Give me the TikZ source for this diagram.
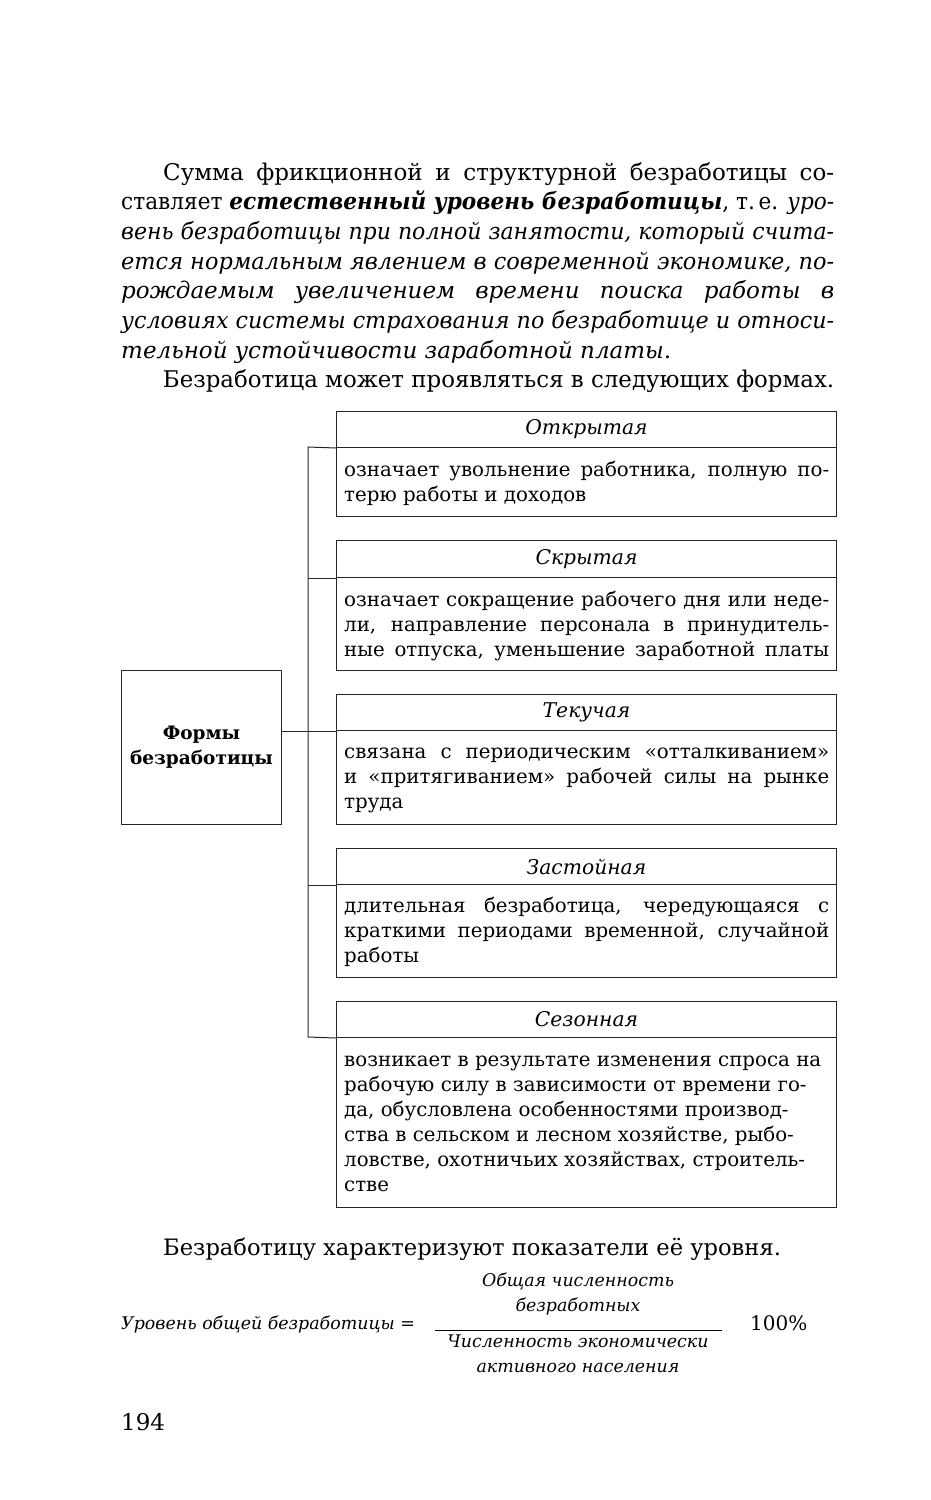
\documentclass[tikz,border=0pt]{standalone}
\usepackage{graphicx}
\usepackage{fontspec}
\setmainfont{DejaVu Serif}
\newcommand{\fsz}[2]{\fontsize{#1pt}{#2pt}\selectfont}
\newsavebox\lnbox
\newcommand{\jl}[1]{\sbox\lnbox{#1}\ifdim\wd\lnbox>\linewidth\resizebox{\linewidth}{\height}{\usebox\lnbox}\else\hbox to\linewidth{#1}\fi}
\newcommand{\lftl}[1]{\sbox\lnbox{#1}\ifdim\wd\lnbox>\linewidth\resizebox{\linewidth}{\height}{\usebox\lnbox}\else\hbox to\linewidth{#1\hfil}\fi}
\tikzset{
  boxline/.style={draw=black!85, line width=1pt},
  hdrbox/.style={boxline, rectangle, minimum width=500pt, inner sep=0pt, anchor=north west, font=\fsz{20.3}{22}\itshape},
  bodybox/.style={boxline, rectangle, minimum width=500pt, inner sep=0pt, anchor=north west},
  bodytxt/.style={anchor=base west, inner sep=0pt, font=\fsz{19.8}{25}},
  maintxt/.style={anchor=base west, inner sep=0pt, font=\fsz{23}{29.7}},
  conn/.style={draw=black!85, line width=1pt},
  frm/.style={inner sep=0pt, font=\fsz{17.4}{25}\itshape}
}
\begin{document}
\begin{tikzpicture}[x=1pt,y=-1pt]
\useasboundingbox (0,0) rectangle (930,1500);

% main paragraph
\node[maintxt] (p1) at (121,180) {\parbox[t]{713pt}{%
\jl{\hspace*{42pt}Сумма фрикционной и структурной безработицы со-}\par
\jl{ставляет \textbf{\textit{естественный уровень безработицы}}, т.\,е. \textit{уро-}}\par
\jl{\textit{вень безработицы при полной занятости, который счита-}}\par
\jl{\textit{ется нормальным явлением в современной экономике, по-}}\par
\jl{\textit{рождаемым увеличением времени поиска работы в}}\par
\jl{\textit{условиях системы страхования по безработице и относи-}}\par
\lftl{\textit{тельной устойчивости заработной платы}.}\par
\lftl{\hspace*{42pt}Безработица может проявляться в следующих формах.}}};

% boxes
\node[hdrbox, minimum height=36pt] (h1) at (336,411) {Открытая};
\node[bodybox, minimum height=69pt] (b1) at (336,447) {};
\node[bodytxt] (t1) at (344,476) {\parbox[t]{485pt}{%
\jl{означает увольнение работника, полную по-}\par
\lftl{терю работы и доходов}}};

\node[hdrbox, minimum height=37pt] (h2) at (336,540) {Скрытая};
\node[bodybox, minimum height=93pt] (b2) at (336,577) {};
\node[bodytxt] (t2) at (344,606) {\parbox[t]{485pt}{%
\jl{означает сокращение рабочего дня или неде-}\par
\jl{ли, направление персонала в принудитель-}\par
\jl{ные отпуска, уменьшение заработной платы}}};

\node[hdrbox, minimum height=36pt] (h3) at (336,694) {Текучая};
\node[bodybox, minimum height=94pt] (b3) at (336,730) {};
\node[bodytxt] (t3) at (344,758) {\parbox[t]{485pt}{%
\jl{связана с периодическим «отталкиванием»}\par
\jl{и «притягиванием» рабочей силы на рынке}\par
\lftl{труда}}};

\node[hdrbox, minimum height=36pt] (h4) at (336,848) {Застойная};
\node[bodybox, minimum height=93pt] (b4) at (336,884) {};
\node[bodytxt] (t4) at (344,912) {\parbox[t]{485pt}{%
\jl{длительная безработица, чередующаяся с}\par
\jl{краткими периодами временной, случайной}\par
\lftl{работы}}};

\node[hdrbox, minimum height=36pt] (h5) at (336,1001) {Сезонная};
\node[bodybox, minimum height=170pt] (b5) at (336,1037) {};
\node[bodytxt] (t5) at (344,1066) {\parbox[t]{485pt}{%
\lftl{возникает в результате изменения спроса на}\par
\lftl{рабочую силу в зависимости от времени го-}\par
\lftl{да, обусловлена особенностями производ-}\par
\lftl{ства в сельском и лесном хозяйстве, рыбо-}\par
\lftl{ловстве, охотничьих хозяйствах, строитель-}\par
\lftl{стве}}};

% left box
\node[boxline, rectangle, minimum width=160pt, minimum height=154pt, inner sep=0pt, anchor=north west, align=center, font=\fsz{18.5}{25}\bfseries] (form) at (121,670) {Формы\\безработицы};

% connectors
\coordinate (vt) at (308,447);
\coordinate (vb) at (308,1037);
\draw[conn] (h1.south west) -- (vt) -- (vb) -- (h5.south west);
\draw[conn] (h2.south west) -- (h2.south west -| vt);
\draw[conn] (h4.south west) -- (h4.south west -| vt);
\draw[conn] (form.east |- h3.south west) -- (h3.south west);

% text after diagram
\node[maintxt, font=\fsz{22.6}{29.7}] (p2) at (163,1255) {Безработицу характеризуют показатели её уровня.};

\node[frm, anchor=base west] (lhs) at (121,1329) {Уровень общей безработицы =};
\coordinate (fl) at (435,1330);
\coordinate (fr) at (722,1330);
\draw[line width=1pt] (fl) -- (fr);
\node[frm, anchor=base] (n1) at (578,1286) {Общая численность};
\node[frm, anchor=base] (n2) at (578,1311) {безработных};
\node[frm, anchor=base] (d1) at (578,1347) {Численность экономически};
\node[frm, anchor=base] (d2) at (578,1372) {активного населения};
\node[anchor=base west, inner sep=0pt, font=\fsz{20}{22}] (pc) at (750,1330) {100\%};

\node[maintxt] (pg) at (121,1430) {194};
\end{tikzpicture}
\end{document}
